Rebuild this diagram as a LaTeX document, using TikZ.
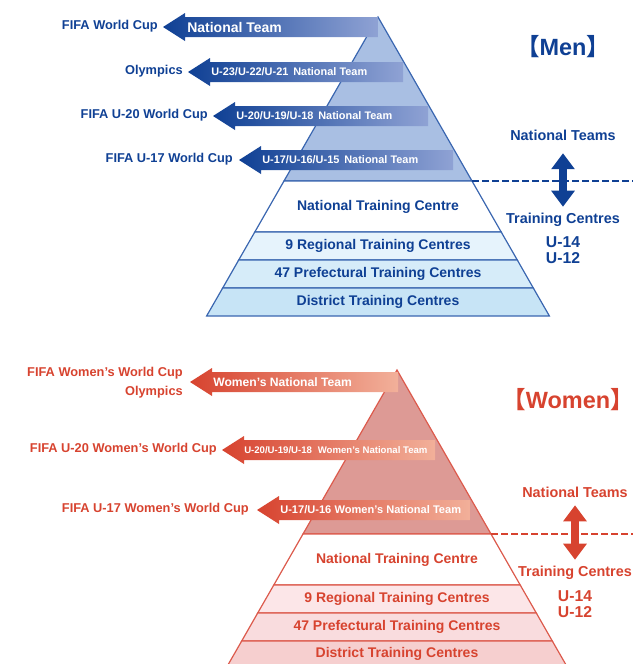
\documentclass[tikz,border=0pt]{standalone}
\usepackage{fontspec}
\setmainfont{Liberation Sans}
\newfontfamily\cjk{Noto Sans CJK JP}
\usetikzlibrary{arrows.meta}

\definecolor{menblue}{HTML}{0F4094}
\definecolor{menmid}{HTML}{2A55A4}
\definecolor{menlight}{HTML}{8FA2D4}
\definecolor{menline}{HTML}{3A66B0}
\definecolor{menfill}{HTML}{A9BFE3}
\definecolor{menband1}{HTML}{E6F3FC}
\definecolor{menband2}{HTML}{D6ECF9}
\definecolor{menband3}{HTML}{C7E4F6}
\definecolor{womred}{HTML}{D7432F}
\definecolor{wommid}{HTML}{DA5238}
\definecolor{womlight}{HTML}{F2B09A}
\definecolor{womline}{HTML}{DC5A4C}
\definecolor{womfill}{HTML}{DD9A95}
\definecolor{womband1}{HTML}{FCE6E8}
\definecolor{womband2}{HTML}{F9DCDE}
\definecolor{womband3}{HTML}{F6CFCF}

\begin{document}
\begin{tikzpicture}[x = 0.75pt, y = -0.75pt,
  every node/.style = {inner sep = 0pt},
  cup/.style = {anchor = east, font = \bfseries\fontsize{9.6}{14.25}\selectfont},
  team/.style = {anchor = west, text = white},
  band/.style = {font = \bfseries\fontsize{10.5}{12}\selectfont},
  sidetext/.style = {font = \bfseries\fontsize{10.8}{13}\selectfont},
  age/.style = {align = center, font = \bfseries\fontsize{11.8}{12}\selectfont},
  heading/.style = {font = \bfseries\fontsize{17.6}{20}\selectfont},
  updown/.style = {{Triangle[width = 17pt, length = 12pt]}-{Triangle[width = 17pt, length = 12pt]}, line width = 6pt},
  divider/.style = {dash pattern = on 5pt off 2.5pt, line width = 1pt},
  mtier/.style = {draw = menline, line width = 0.9pt},
  wtier/.style = {draw = womline, line width = 0.9pt}
]
\useasboundingbox (0,0) rectangle (633,664);

% men pyramid
\begin{scope}[shift = {(378,17)}]
\filldraw[mtier, fill = menfill] (0,0) -- (94,164) -- (-94,164) -- cycle;
\filldraw[mtier, fill = white] (-94,164) -- (94,164) -- (123.2,215) -- (-123.2,215) -- cycle;
\filldraw[mtier, fill = menband1] (-123.2,215) -- (123.2,215) -- (139.3,243) -- (-139.3,243) -- cycle;
\filldraw[mtier, fill = menband2] (-139.3,243) -- (139.3,243) -- (155.3,271) -- (-155.3,271) -- cycle;
\filldraw[mtier, fill = menband3] (-155.3,271) -- (155.3,271) -- (171.4,299) -- (-171.4,299) -- cycle;
\coordinate (mcorner) at (94,164);
\node[band, text = menblue] (mntc) at (0,189.5) {National Training Centre};
\node[band, text = menblue] (mrtc) at (0,229) {9 Regional Training Centres};
\node[band, text = menblue] (mptc) at (0,257) {47 Prefectural Training Centres};
\node[band, text = menblue] (mdtc) at (0,285) {District Training Centres};
\end{scope}

% men national teams
\shade[left color = menblue, middle color = menmid, right color = menlight] (163,27) -- (185,13) -- (185,17) -- (378,17) -- (378,37) -- (185,37) -- (185,41) -- cycle;
\shade[left color = menblue, middle color = menmid, right color = menlight] (188,72) -- (210,58) -- (210,62) -- (403,62) -- (403,82) -- (210,82) -- (210,86) -- cycle;
\shade[left color = menblue, middle color = menmid, right color = menlight] (213,116) -- (235,102) -- (235,106) -- (428,106) -- (428,126) -- (235,126) -- (235,130) -- cycle;
\shade[left color = menblue, middle color = menmid, right color = menlight] (239,160) -- (261,146) -- (261,150) -- (453,150) -- (453,170) -- (261,170) -- (261,174) -- cycle;
\node[team, font = \bfseries\fontsize{10.5}{12}\selectfont] (mt1) at (187,27) {National Team};
\node[team, font = \bfseries\fontsize{8.2}{10}\selectfont] (mt2) at (211,72) {U-23/U-22/U-21\hspace{0.45em}National Team};
\node[team, font = \bfseries\fontsize{8.2}{10}\selectfont] (mt3) at (236,116) {U-20/U-19/U-18\hspace{0.45em}National Team};
\node[team, font = \bfseries\fontsize{8.2}{10}\selectfont] (mt4) at (262,160) {U-17/U-16/U-15\hspace{0.45em}National Team};
\node[cup, text = menblue] (mc1) at (158,26) {FIFA World Cup};
\node[cup, text = menblue] (mc2) at (183,71) {Olympics};
\node[cup, text = menblue] (mc3) at (208,115) {FIFA U-20 World Cup};
\node[cup, text = menblue] (mc4) at (233,159) {FIFA U-17 World Cup};

% men right side
\coordinate (mend) at (633,181);
\draw[divider, menblue] (mcorner) -- (mend);
\node[heading, text = menblue] (mhead) at (563,47) {\hspace*{-0.45em}{\cjk 【}Men{\cjk 】}\hspace*{-0.45em}};
\node[sidetext, text = menblue] (mnt) at (563,135) {National Teams};
\node[sidetext, text = menblue] (mtc) at (563,220) {Training Centres};
\node[age, text = menblue] (mage) at (563,250) {U-14\\U-12};
\draw[updown, menblue, shorten < = 9.5pt, shorten > = 4.7pt] (mnt.south) -- (mtc.north);

% women pyramid
\begin{scope}[shift = {(397,370)}]
\filldraw[wtier, fill = womfill] (0,0) -- (94,164) -- (-94,164) -- cycle;
\filldraw[wtier, fill = white] (-94,164) -- (94,164) -- (123.2,215) -- (-123.2,215) -- cycle;
\filldraw[wtier, fill = womband1] (-123.2,215) -- (123.2,215) -- (139.3,243) -- (-139.3,243) -- cycle;
\filldraw[wtier, fill = womband2] (-139.3,243) -- (139.3,243) -- (155.3,271) -- (-155.3,271) -- cycle;
\filldraw[wtier, fill = womband3] (-155.3,271) -- (155.3,271) -- (171.4,299) -- (-171.4,299) -- cycle;
\coordinate (wcorner) at (94,164);
\node[band, text = womred] (wntc) at (0,189.5) {National Training Centre};
\node[band, text = womred] (wrtc) at (0,229) {9 Regional Training Centres};
\node[band, text = womred] (wptc) at (0,257) {47 Prefectural Training Centres};
\node[band, text = womred] (wdtc) at (0,284) {District Training Centres};
\end{scope}

% women national teams
\shade[left color = womred, middle color = wommid, right color = womlight] (190,382) -- (212,368) -- (212,372) -- (398,372) -- (398,392) -- (212,392) -- (212,396) -- cycle;
\shade[left color = womred, middle color = wommid, right color = womlight] (222,450) -- (244,436) -- (244,440) -- (435,440) -- (435,460) -- (244,460) -- (244,464) -- cycle;
\shade[left color = womred, middle color = wommid, right color = womlight] (257,510) -- (279,496) -- (279,500) -- (470,500) -- (470,520) -- (279,520) -- (279,524) -- cycle;
\node[team, font = \bfseries\fontsize{9.1}{11}\selectfont] (wt1) at (213,382) {Women’s National Team};
\node[team, font = \bfseries\fontsize{7.2}{9}\selectfont] (wt2) at (244,450) {U-20/U-19/U-18\hspace{0.6em}Women’s National Team};
\node[team, font = \bfseries\fontsize{8.3}{10}\selectfont] (wt3) at (280,510) {U-17/U-16\hspace{0.3em}Women’s National Team};
\node[cup, text = womred, align = right] (wc1) at (183,383) {FIFA Women’s World Cup\\Olympics};
\node[cup, text = womred] (wc2) at (217,449) {FIFA U-20 Women’s World Cup};
\node[cup, text = womred] (wc3) at (249,509) {FIFA U-17 Women’s World Cup};

% women right side
\coordinate (wend) at (633,534);
\draw[divider, womred] (wcorner) -- (wend);
\node[heading, text = womred] (whead) at (568,400) {\hspace*{-0.45em}{\cjk 【}Women{\cjk 】}\hspace*{-0.45em}};
\node[sidetext, text = womred] (wnt) at (575,492) {National Teams};
\node[sidetext, text = womred] (wtc) at (575,573) {Training Centres};
\node[age, text = womred] (wage) at (575,604) {U-14\\U-12};
\draw[updown, womred, shorten < = 5.8pt, shorten > = 4.7pt] (wnt.south) -- (wtc.north);
\end{tikzpicture}
\end{document}
